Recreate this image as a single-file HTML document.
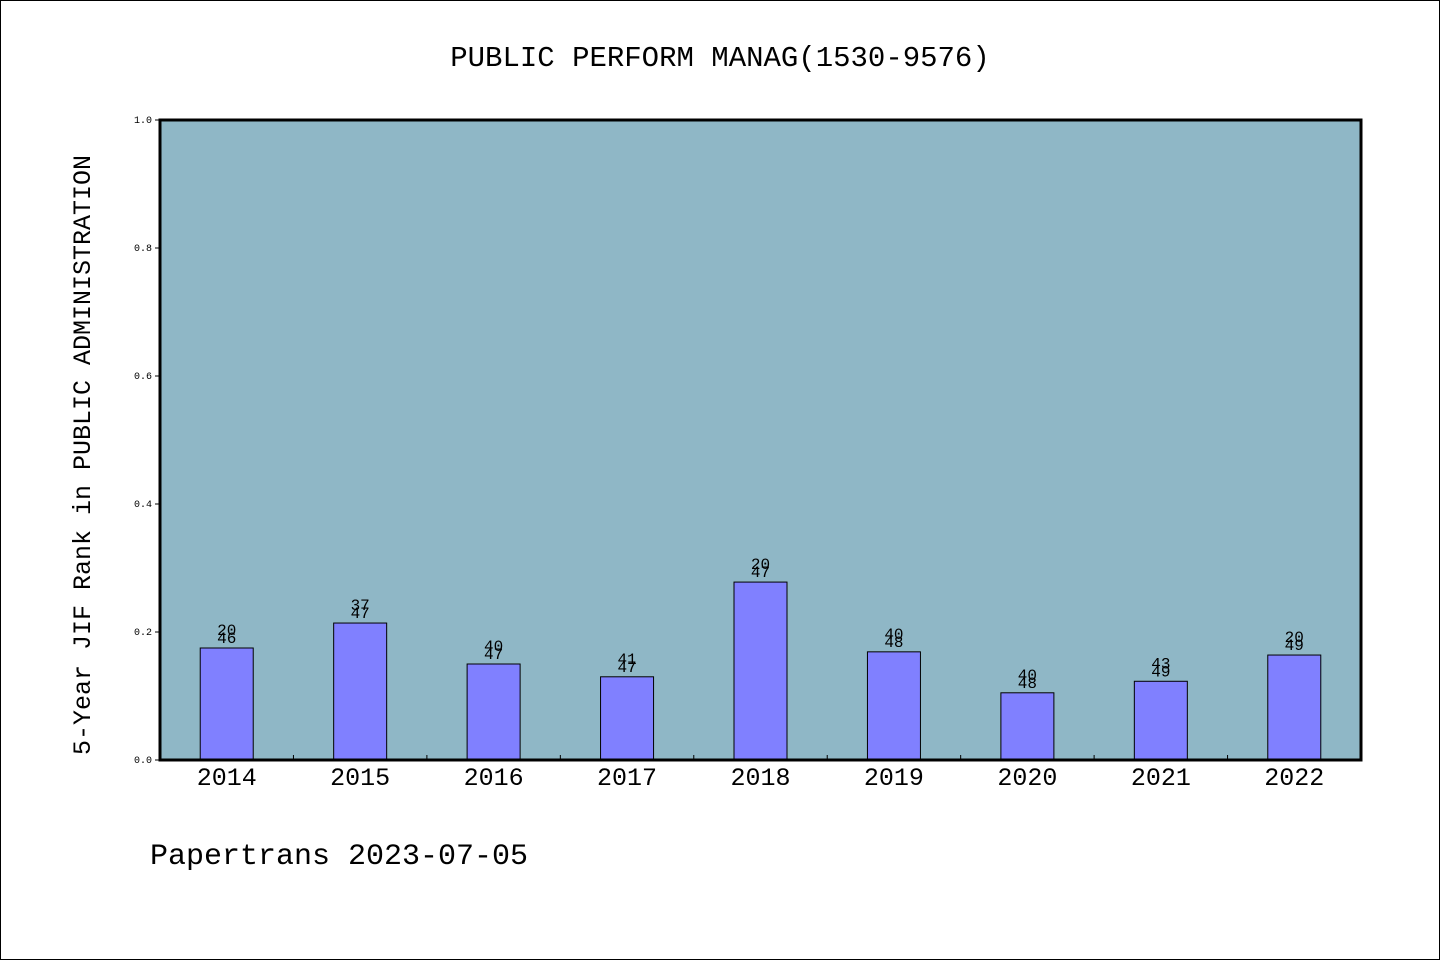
<!DOCTYPE html>
<html><head><meta charset="utf-8"><style>
body{margin:0;background:#fff;}
svg{display:block;font-family:"Liberation Mono","DejaVu Sans Mono",monospace;}
</style></head><body>
<svg width="1440" height="960" viewBox="0 0 1440 960">
<rect x="0.5" y="0.5" width="1439" height="959" fill="#fff" stroke="#000"/>
<text x="720" y="66" text-anchor="middle" font-size="29">PUBLIC PERFORM MANAG(1530-9576)</text>
<rect x="160" y="120" width="1201" height="640" fill="#8fb7c6"/>
<g id="yticks"></g>
<g id="bars"></g>
<g id="xticks"></g>
<rect x="160" y="120" width="1201" height="640" fill="none" stroke="#000" stroke-width="3"/>
<text transform="translate(90,455) rotate(-90)" text-anchor="middle" font-size="25">5-Year JIF Rank in PUBLIC ADMINISTRATION</text>
<text x="150" y="864" font-size="30">Papertrans 2023-07-05</text>
</svg>
<script>
const categories=["2014","2015","2016","2017","2018","2019","2020","2021","2022"];
const values=[0.175,0.214,0.150,0.130,0.278,0.169,0.105,0.123,0.164];
const ranks=["20","37","40","41","20","40","40","43","20"];
const totals=["46","47","47","47","47","48","48","49","49"];
const yTicks=[0,0.2,0.4,0.6,0.8,1.0];
const NS="http://www.w3.org/2000/svg";
const x0=160,x1=1361,y0=760,y1=120;
const step=(x1-x0)/categories.length;
const xc=i=>x0+step*(i+0.5);
const ys=v=>y0-(v)*(y0-y1);
function mk(t,a,p){const e=document.createElementNS(NS,t);for(const k in a)e.setAttribute(k,a[k]);p.appendChild(e);return e;}
const gy=document.getElementById('yticks');
yTicks.forEach(v=>{
 const l=mk('line',{x1:x0-5,x2:x0,y1:ys(v),y2:ys(v),stroke:'#000'},gy);
 
 
 const t=mk('text',{x:x0-8,y:ys(v)+3,'text-anchor':'end','font-size':10},gy);
 t.textContent=v.toFixed(1);
 
 
});
const gb=document.getElementById('bars');
const gx=document.getElementById('xticks');
categories.forEach((c,i)=>{
 const w=53,top=ys(values[i]);
 const r=mk('rect',{x:xc(i)-w/2,y:top,width:w,height:y0-top,fill:'#8080ff',stroke:'#000','stroke-width':1},gb);
 
 
 const t1=mk('text',{x:xc(i),y:top-22+9,'text-anchor':'middle','font-size':16},gb);
 t1.textContent=ranks[i];
 
 
 const t2=mk('text',{x:xc(i),y:top-9+4,'text-anchor':'middle','font-size':16},gb);
 t2.textContent=totals[i];
 
 
 const xl=mk('text',{x:xc(i),y:785,'text-anchor':'middle','font-size':25},gx);
 xl.textContent=c;
 
 
 if(i>0){
  const tk=mk('line',{x1:x0+step*i,x2:x0+step*i,y1:y0,y2:y0-5,stroke:'#000'},gx);
  
  
 }
});
</script>
</body></html>
